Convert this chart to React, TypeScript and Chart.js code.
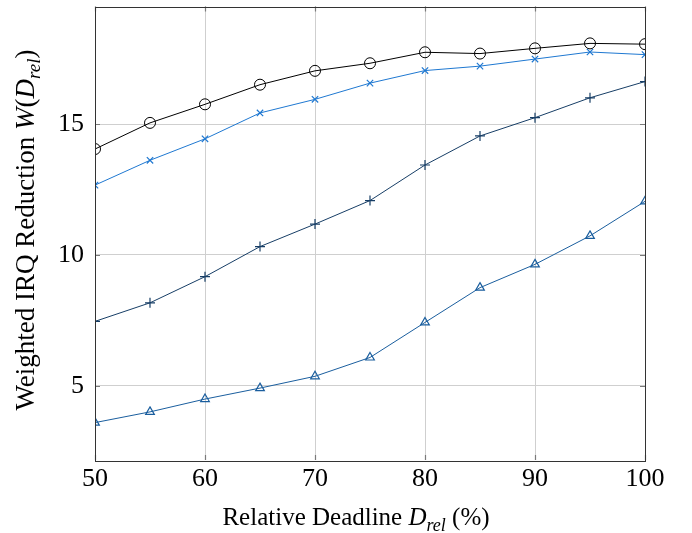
import React, { useEffect, useRef } from "react";
import { Chart, registerables } from "chart.js";

Chart.register(...registerables);

const deadlines = [50, 55, 60, 65, 70, 75, 80, 85, 90, 95, 100];
const seriesCircle = [14.05, 15.05, 15.76, 16.51, 17.04, 17.33, 17.75, 17.7, 17.9, 18.09, 18.06];
const seriesX = [12.67, 13.62, 14.44, 15.43, 15.95, 16.57, 17.05, 17.22, 17.49, 17.76, 17.66];
const seriesPlus = [7.46, 8.17, 9.17, 10.32, 11.18, 12.08, 13.44, 14.55, 15.25, 16.01, 16.63];
const seriesTriangle = [3.59, 4.0, 4.49, 4.91, 5.36, 6.08, 7.42, 8.75, 9.64, 10.73, 12.05];
const yTicks = [5, 10, 15];
const xTicks = [50, 60, 70, 80, 90, 100];

const FONT = "'Liberation Serif', 'DejaVu Serif', serif";
const TITLE_SIZE = 25;
const Y_TITLE_SIZE = 27;
const TICK_SIZE = 26;

type Run = { t: string; it?: boolean; sub?: boolean };
const yTitle: Run[] = [
  { t: "Weighted IRQ Reduction " },
  { t: "W", it: true },
  { t: "(" },
  { t: "D", it: true },
  { t: "rel", it: true, sub: true },
  { t: ")" },
];
const xTitle: Run[] = [
  { t: "Relative Deadline " },
  { t: "D", it: true },
  { t: "rel", it: true, sub: true },
  { t: " (%)" },
];

function fontFor(r: Run, size: number) {
  const s = r.sub ? Math.round(size * 0.7) : size;
  return `${r.it ? "italic " : ""}${s}px ${FONT}`;
}

function drawRuns(ctx: CanvasRenderingContext2D, runs: Run[], size: number) {
  let total = 0;
  for (const r of runs) {
    ctx.font = fontFor(r, size);
    total += ctx.measureText(r.t).width;
  }
  let x = -total / 2;
  ctx.textBaseline = "alphabetic";
  ctx.textAlign = "left";
  for (const r of runs) {
    ctx.font = fontFor(r, size);
    ctx.fillText(r.t, x, r.sub ? size * 0.22 : 0);
    x += ctx.measureText(r.t).width;
  }
}

const titlesPlugin = {
  id: "richTitles",
  afterDraw(chart: any) {
    const ctx = chart.ctx as CanvasRenderingContext2D;
    const a = chart.chartArea;
    const xs = chart.scales.x;
    const ys = chart.scales.y;
    ctx.save();
    ctx.fillStyle = "#000";
    ctx.save();
    ctx.translate(356, 525);
    drawRuns(ctx, xTitle, TITLE_SIZE);
    ctx.restore();
    ctx.save();
    ctx.translate(34, 230);
    ctx.rotate(-Math.PI / 2);
    drawRuns(ctx, yTitle, Y_TITLE_SIZE);
    ctx.restore();
    ctx.strokeStyle = "#7a7a7a";
    ctx.lineWidth = 1.2;
    ctx.beginPath();
    for (const v of xTicks) {
      const px = Math.round(xs.getPixelForValue(v)) + 0.5;
      ctx.moveTo(px, a.bottom);
      ctx.lineTo(px, a.bottom - 5);
      ctx.moveTo(px, a.top);
      ctx.lineTo(px, a.top + 5);
    }
    for (const v of yTicks) {
      const py = Math.round(ys.getPixelForValue(v)) + 0.5;
      ctx.moveTo(a.left, py);
      ctx.lineTo(a.left + 5, py);
      ctx.moveTo(a.right, py);
      ctx.lineTo(a.right - 5, py);
    }
    ctx.stroke();
    ctx.strokeStyle = "#333333";
    ctx.lineWidth = 1;
    ctx.strokeRect(Math.round(a.left) + 0.5, Math.round(a.top) + 0.5, Math.round(a.right - a.left), Math.round(a.bottom - a.top));
    ctx.restore();
  },
};

export default function App() {
  const ref = useRef<HTMLCanvasElement | null>(null);
  useEffect(() => {
    if (!ref.current) return;
    const chart = new Chart(ref.current, {
      type: "line",
      data: {
        labels: deadlines,
        datasets: [
          {
            label: "circle",
            data: deadlines.map((x, i) => ({ x, y: seriesCircle[i] })),
            borderColor: "#000000",
            backgroundColor: "rgba(0,0,0,0)",
            borderWidth: 1,
            pointStyle: "circle",
            pointRadius: 5.5,
            pointBorderColor: "#000000",
            pointBorderWidth: 1,
          },
          {
            label: "x",
            data: deadlines.map((x, i) => ({ x, y: seriesX[i] })),
            borderColor: "#1f78d1",
            backgroundColor: "rgba(0,0,0,0)",
            borderWidth: 1,
            pointStyle: "crossRot",
            pointRadius: 4.5,
            pointBorderColor: "#1f78d1",
            pointBorderWidth: 1.2,
          },
          {
            label: "plus",
            data: deadlines.map((x, i) => ({ x, y: seriesPlus[i] })),
            borderColor: "#173e66",
            backgroundColor: "rgba(0,0,0,0)",
            borderWidth: 1,
            pointStyle: "cross",
            pointRadius: 5,
            pointBorderColor: "#173e66",
            pointBorderWidth: 1.2,
          },
          {
            label: "triangle",
            data: deadlines.map((x, i) => ({ x, y: seriesTriangle[i] })),
            borderColor: "#1a5e9e",
            backgroundColor: "rgba(0,0,0,0)",
            borderWidth: 1,
            pointStyle: "triangle",
            pointRadius: 5,
            pointBorderColor: "#1a5e9e",
            pointBorderWidth: 1.2,
          },
        ],
      },
      options: {
        animation: false,
        responsive: false,
        maintainAspectRatio: false,
        layout: { padding: { left: 0, right: 47, top: 3, bottom: 0 } },
        plugins: { legend: { display: false }, tooltip: { enabled: false } },
        elements: { line: { tension: 0 } },
        scales: {
          x: {
            type: "linear",
            min: 50,
            max: 100,
            afterBuildTicks: (s: any) => {
              s.ticks = xTicks.map((v) => ({ value: v }));
            },
            afterFit: (s: any) => {
              s.height = 73;
              s.paddingLeft = 0;
              s.paddingRight = 0;
            },
            grid: { color: "#cfcfcf", lineWidth: 1, drawTicks: false },
            border: { display: false },
            ticks: {
              color: "#000",
              font: { family: FONT, size: TICK_SIZE },
              padding: 4,
              maxRotation: 0,
            },
          },
          y: {
            type: "linear",
            min: 2.16,
            max: 19.5,
            afterBuildTicks: (s: any) => {
              s.ticks = yTicks.map((v) => ({ value: v }));
            },
            afterFit: (s: any) => {
              s.width = 95;
              s.paddingTop = 0;
              s.paddingBottom = 0;
            },
            grid: { color: "#cfcfcf", lineWidth: 1, drawTicks: false },
            border: { display: false },
            ticks: {
              color: "#000",
              font: { family: FONT, size: TICK_SIZE },
              padding: 11,
            },
          },
        },
      },
      plugins: [titlesPlugin],
    } as any);
    return () => chart.destroy();
  }, []);
  return (
    <div style={{ position: "fixed", left: 0, top: 0, width: 692, height: 533, background: "#fff" }}>
      <canvas ref={ref} width={692} height={533} style={{ width: 692, height: 533 }} />
    </div>
  );
}
